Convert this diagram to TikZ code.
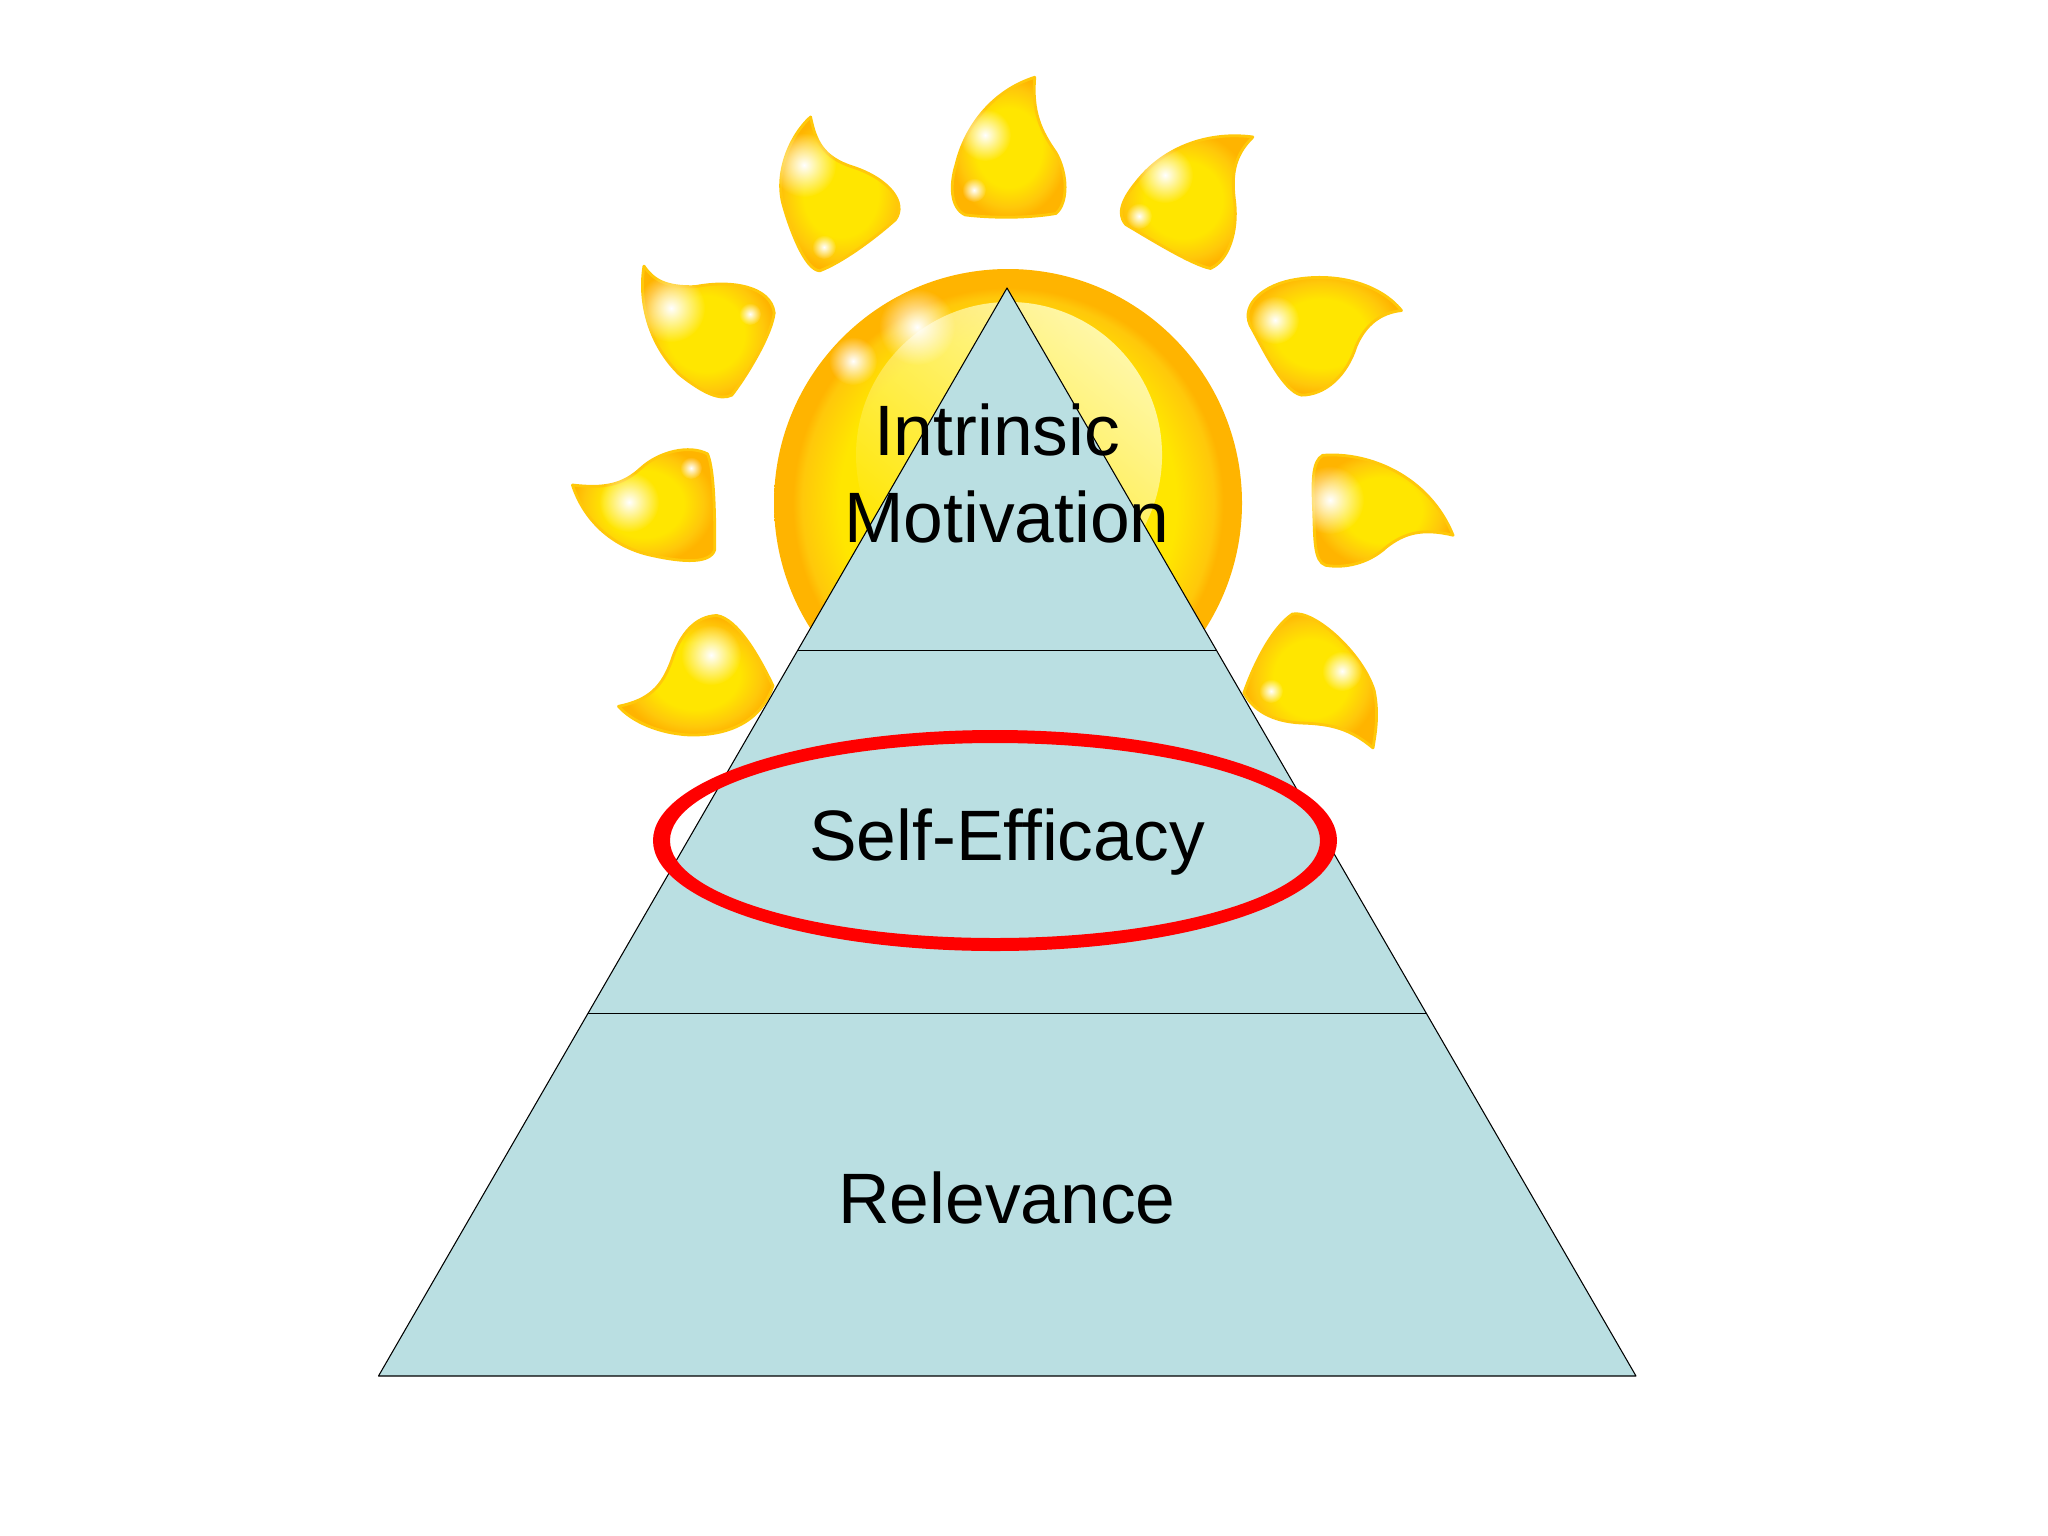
\documentclass[tikz,border=0pt]{standalone}
\usepackage{fontspec}
\setmainfont{Liberation Sans}
\usetikzlibrary{fadings}
\definecolor{pyramidfill}{HTML}{BADFE2}
\definecolor{sunedge}{HTML}{FFB400}
\definecolor{sunmid}{HTML}{FFC80A}
\definecolor{sunyellow}{HTML}{FFE600}
\definecolor{sunpale}{HTML}{FFF8A8}
\pgfdeclareradialshading{raygold}{\pgfpoint{0bp}{0bp}}{color(0bp)=(sunyellow); color(14bp)=(sunyellow); color(21bp)=(sunmid); color(25bp)=(sunedge); color(50bp)=(sunedge)}
\pgfdeclareradialshading{discgold}{\pgfpoint{0bp}{0bp}}{color(0bp)=(sunyellow); color(18bp)=(sunyellow); color(22bp)=(sunmid); color(23bp)=(sunedge); color(25bp)=(sunedge); color(50bp)=(sunedge)}
\tikzfading[name=softfade, inner color=transparent!0, outer color=transparent!100]
\tikzset{
    sunray/.style={shading=raygold, draw=sunmid, line width=0.8pt, line join=round},
    softdot/.style={fill=white, path fading=softfade},
    layerlabel/.style={font=\fontsize{20.3}{24.5}\selectfont, text=black, inner sep=0pt, align=center},
}
\begin{document}
\begin{tikzpicture}[line cap=round, line join=round, x=0.01cm, y=-0.01cm]
    \useasboundingbox (0, 0) rectangle (2048, 1536);
    \coordinate (apex) at (1007, 288);
    \coordinate (topleft) at (798.5, 650.5);
    \coordinate (topright) at (1216, 650.5);
    \coordinate (midleft) at (588.5, 1013.5);
    \coordinate (midright) at (1426, 1013.5);
    \coordinate (baseleft) at (378.5, 1376);
    \coordinate (baseright) at (1636, 1376);
    % rays
    \begin{scope}[shift={(550, 50)}, xscale=0.606, yscale=0.478]
        \shade[sunray] (800,57) .. controls (795,130) and (810,170) .. (835,215) .. controls (855,260) and (855,320) .. (835,342) .. controls (790,352) and (730,352) .. (685,345) .. controls (660,330) and (660,280) .. (670,240) .. controls (685,160) and (730,85) .. cycle;
        \shade[sunray] (430,140) .. controls (438,190) and (450,225) .. (500,245) .. controls (560,270) and (590,320) .. (570,355) .. controls (530,400) and (480,445) .. (445,462) .. controls (420,460) and (395,370) .. (385,325) .. controls (370,260) and (395,180) .. cycle;
        \shade[sunray] (1160,182) .. controls (1125,225) and (1125,270) .. (1130,320) .. controls (1135,380) and (1120,440) .. (1090,457) .. controls (1060,450) and (990,395) .. (950,365) .. controls (930,335) and (955,295) .. (975,265) .. controls (1020,200) and (1090,170) .. cycle;
        \shade[sunray] (1405,545) .. controls (1370,550) and (1345,575) .. (1330,620) .. controls (1315,680) and (1280,722) .. (1240,722) .. controls (1210,715) and (1175,620) .. (1155,575) .. controls (1140,530) and (1180,490) .. (1230,480) .. controls (1300,465) and (1370,490) .. cycle;
        \shade[sunray] (1490,1015) .. controls (1440,1000) and (1410,1010) .. (1380,1040) .. controls (1350,1075) and (1310,1085) .. (1280,1078) .. controls (1260,1070) and (1262,1020) .. (1260,960) .. controls (1258,900) and (1258,860) .. (1275,848) .. controls (1350,840) and (1450,890) .. cycle;
        \shade[sunray] (1358,1460) .. controls (1320,1420) and (1290,1410) .. (1240,1408) .. controls (1190,1405) and (1160,1380) .. (1145,1345) .. controls (1160,1290) and (1190,1210) .. (1225,1180) .. controls (1260,1170) and (1340,1260) .. (1360,1340) .. controls (1368,1390) and (1362,1430) .. cycle;
        \shade[sunray] (113,1373) .. controls (165,1360) and (185,1330) .. (200,1280) .. controls (215,1220) and (240,1185) .. (275,1183) .. controls (310,1190) and (345,1270) .. (368,1330) .. controls (350,1400) and (300,1435) .. (230,1433) .. controls (180,1430) and (135,1405) .. cycle;
        \shade[sunray] (37,910) .. controls (90,918) and (120,910) .. (150,875) .. controls (180,840) and (230,825) .. (260,845) .. controls (272,880) and (272,990) .. (272,1045) .. controls (265,1075) and (220,1072) .. (170,1058) .. controls (100,1040) and (55,980) .. cycle;
        \shade[sunray] (155,452) .. controls (170,480) and (190,497) .. (240,495) .. controls (300,480) and (365,495) .. (370,550) .. controls (365,600) and (320,690) .. (300,722) .. controls (280,735) and (250,715) .. (215,680) .. controls (165,620) and (145,530) .. cycle;
    \end{scope}
    % sun disc
    \shade[shading=discgold] (1008, 503) circle (234);
    \fill[sunpale, path fading=south, fading angle=-40] (1009, 455) circle (153);
    % highlights
    \foreach \hx/\hy/\hr in {974/190/12, 824/247/12, 1139/216/13, 1271/691/12, 711/655/30, 691/468/11, 750/314/11,
        985/135/26, 804/165/32, 1165/175/28, 1275/320/24, 1330/500/34, 1342/671/20, 629/502/30, 671/308/34,
        917/327/38, 853/361/24}
        \fill[softdot] (\hx, \hy) circle (\hr);
    % pyramid
    \fill[pyramidfill] (apex) -- (baseright) -- (baseleft) -- cycle;
    \draw[line width=0.3pt] (apex) -- (baseright) -- (baseleft) -- cycle;
    \draw[line width=0.3pt] (topleft) -- (topright);
    \draw[line width=0.3pt] (midleft) -- (midright);
    % labels
    \node[layerlabel, anchor=base] (selfefficacy) at (1007, 860) {Self-Efficacy};
    \node[layerlabel, anchor=base] (relevance) at (1007, 1223) {Relevance};
    \node[layerlabel] (intrinsic) at (1007, 473.5) {Intrinsic\phantom{\ }\\Motivation};
    \fill[red, even odd rule] (995, 840.5) ellipse [x radius=342, y radius=110.5] (995, 840.5) ellipse [x radius=325, y radius=97.5];
\end{tikzpicture}
\end{document}
